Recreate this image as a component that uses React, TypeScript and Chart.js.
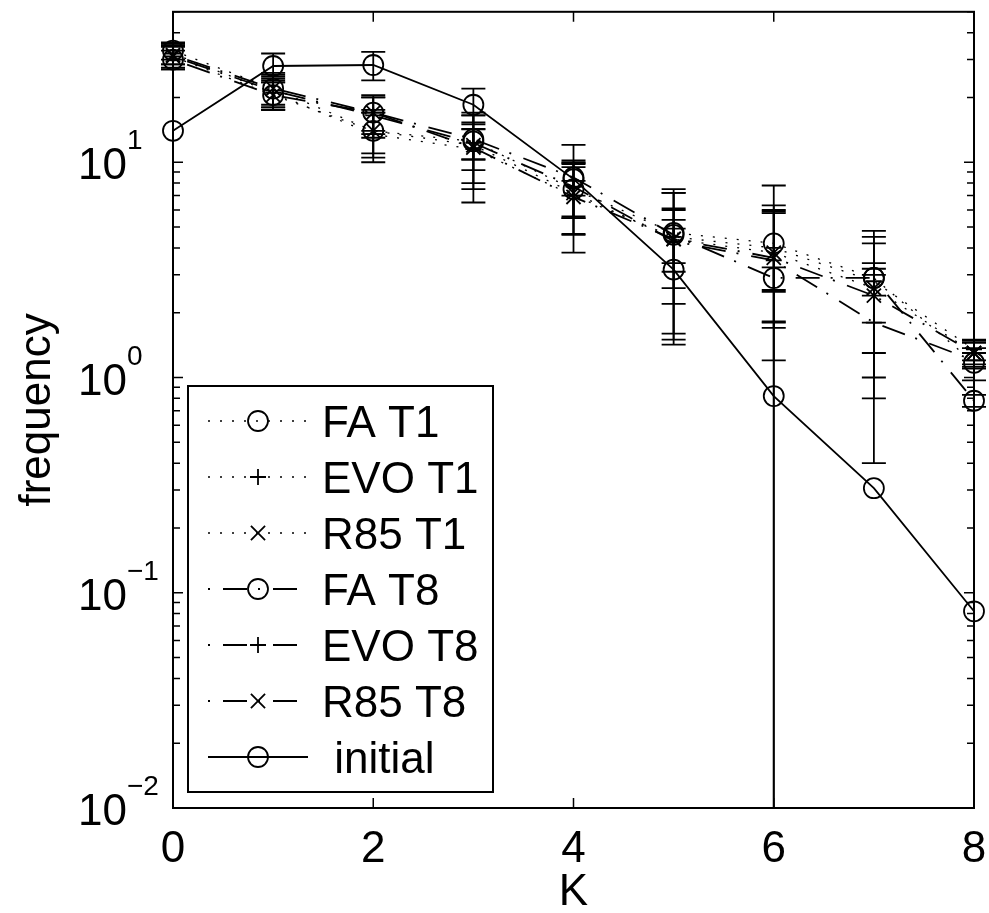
import React, { useEffect, useRef } from 'react';
import { Chart, registerables } from 'chart.js';

Chart.register(...registerables);

// ---------------- data ----------------
const K = [0, 1, 2, 3, 4, 5, 6, 7, 8];

const faT1 = [33, 22, 14, 12.5, 7.5, 4.7, 4.2, 2.9, 1.17];
const faT1Err = [3, 4, 3.5, 4.5, 2.0, 2.5, 1.7, 1.6, 0.2];
const evoT1 = [32, 21, 13.5, 11.5, 7.0, 4.5, 4.0, 2.8, 1.35];
const evoT1Err = [3.5, 3.5, 3.5, 5, 3.2, 3.0, 2.3, 2.0, 0.15];
const r85T1 = [31, 20.5, 14, 12, 7.2, 4.4, 3.8, 2.6, 1.3];
const r85T1Err = [4, 3, 3, 4.5, 2.6, 2.8, 2.0, 1.6, 0.18];
const faT8 = [30, 20.5, 17, 12.8, 8.5, 4.6, 2.9, 2.9, 0.78];
const faT8Err = [3, 3, 3.5, 2.5, 1.5, 1.5, 0.35, 0.5, 0.05];
const evoT8 = [31, 21.5, 16.5, 12.3, 7.7, 4.3, 3.5, 1.8, 1.2];
const evoT8Err = [3.5, 3.5, 3.5, 2, 2.2, 1.7, 4.3, 1.4, 0.1];
const r85T8 = [31.5, 22, 17, 11.7, 6.9, 4.4, 3.6, 2.4, 1.3];
const r85T8Err = [3, 3.5, 3, 2.5, 1.3, 1.0, 2.4, 0.6, 0.15];
const initial = [14, 28, 28.3, 18.5, 8.35, 3.17, 0.82, 0.306, 0.082];
const initialErr = [0, 4, 4.3, 3.5, 3.7, 1.75, 1.0, 0, 0];

const seriesLabels = ['FA T1', 'EVO T1', 'R85 T1', 'FA T8', 'EVO T8', 'R85 T8', ' initial'];
const xTickValues = [0, 2, 4, 6, 8];
const xTickLabels = ['0', '2', '4', '6', '8'];
const yDecadeExps = [-2, -1, 0, 1];
const yDecadeLabels = ['\u22122', '\u22121', '0', '1'];
const xTitle = 'K';
const yTitle = 'frequency';
const yMin = 0.01;
const yMax = 50;

// ---------------- styles ----------------
const FONT = '"Liberation Sans", Arial, Helvetica, sans-serif';
const DOT = [2, 10];
const DASHDOT = [2, 13, 24, 11];

type Style = { dash: number[]; marker: string; lw: number };
const styles: Style[] = [
  { dash: DOT, marker: 'circle', lw: 1.3 },
  { dash: DOT, marker: 'cross', lw: 1.3 },
  { dash: DOT, marker: 'crossRot', lw: 1.3 },
  { dash: DASHDOT, marker: 'circle', lw: 1.8 },
  { dash: DASHDOT, marker: 'cross', lw: 1.8 },
  { dash: DASHDOT, marker: 'crossRot', lw: 1.8 },
  { dash: [], marker: 'circle', lw: 1.8 },
];
const values = [faT1, evoT1, r85T1, faT8, evoT8, r85T8, initial];
const errors = [faT1Err, evoT1Err, r85T1Err, faT8Err, evoT8Err, r85T8Err, initialErr];

function markerRadius(m: string) {
  if (m === 'circle') return 10;
  if (m === 'cross') return 8;
  return 10;
}

function drawMarker(ctx: CanvasRenderingContext2D, m: string, x: number, y: number) {
  const r = markerRadius(m);
  ctx.beginPath();
  if (m === 'circle') {
    ctx.arc(x, y, r, 0, Math.PI * 2);
  } else if (m === 'cross') {
    ctx.moveTo(x - r, y); ctx.lineTo(x + r, y);
    ctx.moveTo(x, y - r); ctx.lineTo(x, y + r);
  } else {
    const d = r * Math.SQRT1_2;
    ctx.moveTo(x - d, y - d); ctx.lineTo(x + d, y + d);
    ctx.moveTo(x - d, y + d); ctx.lineTo(x + d, y - d);
  }
  ctx.stroke();
}

const errorBarPlugin = {
  id: 'errorBars',
  beforeDatasetsDraw(chart: any) {
    const { ctx, chartArea: ca, scales } = chart;
    const xs = scales.x, ys = scales.y;
    ctx.save();
    ctx.beginPath();
    ctx.rect(ca.left - 20, ca.top, ca.right - ca.left + 40, ca.bottom - ca.top);
    ctx.clip();
    ctx.strokeStyle = '#000';
    ctx.lineWidth = 1.8;
    ctx.setLineDash([]);
    const cap = 12;
    values.forEach((vals, s) => {
      const errs = errors[s];
      vals.forEach((v, i) => {
        const e = errs[i];
        if (!e) return;
        const px = xs.getPixelForValue(K[i]);
        const top = ys.getPixelForValue(v + e);
        const lowVal = v - e;
        const bot = lowVal > 0 ? ys.getPixelForValue(lowVal) : ca.bottom + 50;
        ctx.beginPath();
        ctx.moveTo(px, top); ctx.lineTo(px, bot);
        ctx.moveTo(px - cap, top); ctx.lineTo(px + cap, top);
        if (lowVal > 0) { ctx.moveTo(px - cap, bot); ctx.lineTo(px + cap, bot); }
        ctx.stroke();
      });
    });
    ctx.restore();
  },
};

const axesPlugin = {
  id: 'matlabAxes',
  afterDraw(chart: any) {
    const { ctx, chartArea: ca, scales } = chart;
    const xs = scales.x, ys = scales.y;
    ctx.save();
    ctx.strokeStyle = '#000';
    ctx.fillStyle = '#000';
    ctx.setLineDash([]);
    // ticks
    ctx.lineWidth = 1.5;
    ctx.beginPath();
    xTickValues.forEach((v) => {
      const px = xs.getPixelForValue(v);
      ctx.moveTo(px, ca.bottom); ctx.lineTo(px, ca.bottom - 10);
      ctx.moveTo(px, ca.top); ctx.lineTo(px, ca.top + 10);
    });
    for (let e = -2; e <= 1; e++) {
      for (let m = 1; m <= 9; m++) {
        const v = m * Math.pow(10, e);
        if (v < yMin - 1e-12 || v > yMax + 1e-9) continue;
        const py = ys.getPixelForValue(v);
        const len = m === 1 ? 10 : 7;
        ctx.moveTo(ca.left, py); ctx.lineTo(ca.left + len, py);
        ctx.moveTo(ca.right, py); ctx.lineTo(ca.right - len, py);
      }
    }
    ctx.stroke();
    // box
    ctx.lineWidth = 2;
    ctx.strokeRect(ca.left, ca.top, ca.right - ca.left, ca.bottom - ca.top);

    // x tick labels
    ctx.font = `44px ${FONT}`;
    ctx.textAlign = 'center';
    ctx.textBaseline = 'alphabetic';
    xTickValues.forEach((v, i) => {
      ctx.fillText(xTickLabels[i], xs.getPixelForValue(v), ca.bottom + 54);
    });
    // x title
    ctx.fillText(xTitle, (ca.left + ca.right) / 2, ca.bottom + 97);
    // y tick labels
    yDecadeExps.forEach((e, i) => {
      const py = ys.getPixelForValue(Math.pow(10, e));
      ctx.font = `44px ${FONT}`;
      ctx.textAlign = 'left';
      ctx.fillText('10', ca.left - 95, py + 17);
      ctx.font = `28px ${FONT}`;
      ctx.fillText(yDecadeLabels[i], ca.left - 46, py - 13);
    });
    // y title
    ctx.save();
    ctx.font = `44px ${FONT}`;
    ctx.textAlign = 'center';
    ctx.translate(ca.left - 123, (ca.top + ca.bottom) / 2);
    ctx.rotate(-Math.PI / 2);
    ctx.fillText(yTitle, 0, 0);
    ctx.restore();

    // legend
    const lx = ca.left + 15, lw = 305;
    const rowH = 56;
    const lh = rowH * 6 + 70;
    const ly = ca.bottom - 16 - lh;
    ctx.fillStyle = '#fff';
    ctx.fillRect(lx, ly, lw, lh);
    ctx.lineWidth = 2;
    ctx.strokeStyle = '#000';
    ctx.strokeRect(lx, ly, lw, lh);
    ctx.fillStyle = '#000';
    seriesLabels.forEach((lab, i) => {
      const st = styles[i];
      const cy = ly + 35 + i * rowH;
      const x0 = lx + 20, x1 = lx + 120, xm = lx + 70;
      ctx.lineWidth = st.lw;
      ctx.setLineDash(st.dash);
      ctx.lineDashOffset = 0;
      ctx.beginPath();
      ctx.moveTo(x0, cy); ctx.lineTo(x1, cy);
      ctx.stroke();
      ctx.setLineDash([]);
      ctx.lineWidth = 1.8;
      drawMarker(ctx, st.marker, xm, cy);
      ctx.font = `44px ${FONT}`;
      ctx.textAlign = 'left';
      ctx.fillText(lab, lx + 134, cy + 16);
    });
    ctx.restore();
  },
};

export default function App() {
  const ref = useRef<HTMLCanvasElement | null>(null);
  useEffect(() => {
    if (!ref.current) return;
    const datasets = values.map((vals, s) => {
      const st = styles[s];
      return {
        label: seriesLabels[s],
        data: vals.map((v, i) => ({ x: K[i], y: v })),
        borderColor: '#000',
        backgroundColor: 'rgba(0,0,0,0)',
        borderWidth: st.lw,
        borderDash: st.dash,
        pointStyle: st.marker,
        pointRadius: markerRadius(st.marker),
        pointBorderWidth: 1.8,
        pointBorderColor: '#000',
        pointBackgroundColor: 'rgba(0,0,0,0)',
        tension: 0,
        fill: false,
        clip: false as any,
      };
    });
    const chart = new Chart(ref.current, {
      type: 'line',
      data: { datasets },
      options: {
        animation: false,
        responsive: false,
        devicePixelRatio: 1,
        layout: { padding: { left: 0, right: 15, top: 6, bottom: 0 } },
        plugins: { legend: { display: false }, tooltip: { enabled: false } },
        scales: {
          x: {
            type: 'linear',
            min: 0,
            max: 8,
            grid: { display: false },
            border: { display: false },
            ticks: { display: false },
            afterFit: (s: any) => { s.height = 105; },
          },
          y: {
            type: 'logarithmic',
            min: yMin,
            max: yMax,
            grid: { display: false },
            border: { display: false },
            ticks: { display: false },
            afterFit: (s: any) => { s.width = 173; },
          },
        },
      } as any,
      plugins: [errorBarPlugin, axesPlugin],
    });
    return () => chart.destroy();
  }, []);
  return (
    <div style={{ position: 'fixed', left: 0, top: 0, width: 989, height: 913, background: '#fff' }}>
      <canvas ref={ref} width={989} height={913} style={{ display: 'block' }} />
    </div>
  );
}
